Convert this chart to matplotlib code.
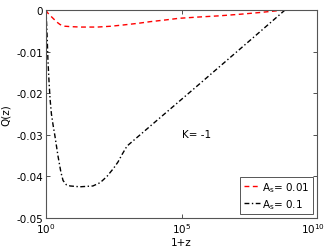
import numpy as np
import matplotlib
matplotlib.use("Agg")
import matplotlib.pyplot as plt
import matplotlib.transforms as mtransforms

# log10(1+z) sample positions and Q(z) values
logx_s001 = [0.0, 0.05, 0.15, 0.26, 0.40, 0.52, 0.70, 0.90, 1.30, 1.90, 2.40, 2.85, 3.40, 3.85, 4.40, 4.90, 5.60, 6.40, 7.20, 7.90, 8.50, 8.82]
q_s001    = [0.0, -0.0006, -0.0013, -0.0020, -0.0029, -0.0035, -0.0039, -0.0040, -0.0041, -0.0041, -0.0039, -0.0036, -0.0032, -0.0028, -0.0024, -0.0020, -0.0017, -0.0014, -0.0010, -0.0006, -0.0002, 0.0]

logx_s01 = [0.0, 0.04, 0.07, 0.11, 0.15, 0.20, 0.26, 0.33, 0.44, 0.55, 0.63, 0.75, 0.89, 1.25, 1.73, 2.00, 2.25, 2.50, 2.66, 2.80, 2.90, 2.99, 4.10, 5.50, 7.60, 8.82]
q_s01    = [0.0, -0.0060, -0.0118, -0.0170, -0.0214, -0.0250, -0.0276, -0.0303, -0.0350, -0.0390, -0.0410, -0.0420, -0.0423, -0.0425, -0.0423, -0.0415, -0.0400, -0.0380, -0.0365, -0.0348, -0.0337, -0.0327, -0.0265, -0.0187, -0.0069, 0.0]

labels = [r"A$_\mathrm{s}$= 0.01", r"A$_\mathrm{s}$= 0.1"]
yticks = [0, -0.01, -0.02, -0.03, -0.04, -0.05]
ytick_labels = ["0", "-0.01", "-0.02", "-0.03", "-0.04", "-0.05"]
xticks = [1e0, 1e5, 1e10]
annot = "K= -1"

plt.rcParams['font.family'] = ['DejaVu Sans']
fig = plt.figure(figsize=(3.27, 2.51), dpi=100)
ax = fig.add_axes([46/327, 1-219/251, (317-46)/327, (219-11)/251])

x1 = 10.0 ** np.array(logx_s001)
x2 = 10.0 ** np.array(logx_s01)
ax.plot(x1, q_s001, color='red', linestyle=(0, (3.5, 2.5)), linewidth=1.0, label=labels[0])
ax.plot(x2, q_s01, color='black', linestyle=(0, (3.5, 1.8, 1.0, 1.8)), linewidth=1.0, label=labels[1])

ax.set_xscale('log')
ax.set_xlim(1e0, 1e10)
ax.set_ylim(-0.05, 0)
ax.set_xticks(xticks)
ax.xaxis.set_minor_locator(matplotlib.ticker.NullLocator())
ax.set_yticks(yticks)
ax.set_yticklabels(ytick_labels)
ax.tick_params(direction='in', length=3, width=0.6, labelsize=7.5, colors='#333333', labelcolor='black',
               top=True, right=True, pad=2)
for s in ax.spines.values():
    s.set_color('#555555')
    s.set_linewidth(0.8)

# shift the last x tick label slightly left so it stays inside the figure
fig.canvas.draw()
xlabs = ax.get_xticklabels()
xlabs[-1].set_transform(xlabs[-1].get_transform() +
                        mtransforms.ScaledTranslation(-4/100, 0, fig.dpi_scale_trans))

ax.set_xlabel("1+z", fontsize=7.5, labelpad=2)
ax.set_ylabel("Q(z)", fontsize=7.5, labelpad=4)
ax.text(1.05e5, -0.0297, annot, fontsize=7.5, va='center', ha='left')

leg = ax.legend(loc='lower right', fontsize=7.5, handlelength=1.6, handletextpad=0.2,
                borderpad=0.3, labelspacing=0.3, fancybox=False, framealpha=1,
                edgecolor='#555555', borderaxespad=0.4)
leg.get_frame().set_linewidth(0.7)

fig.savefig("out.png", dpi=100)
